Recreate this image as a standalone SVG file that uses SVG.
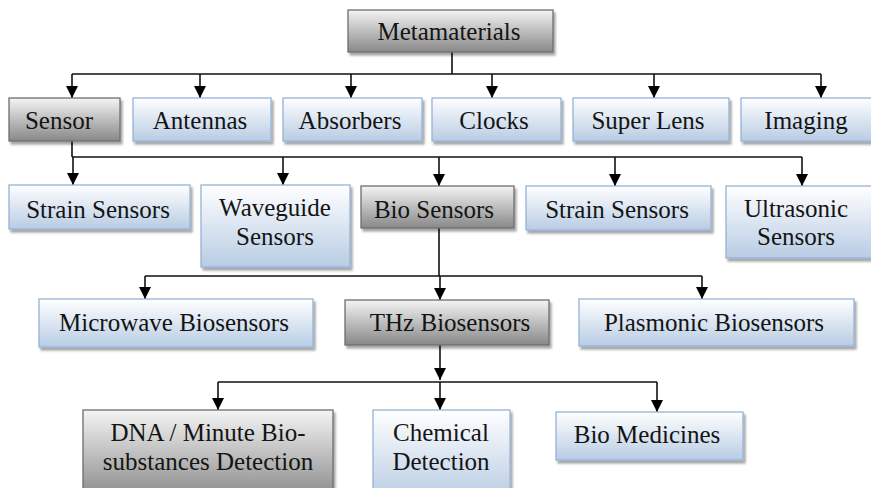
<svg xmlns="http://www.w3.org/2000/svg" width="871" height="488" viewBox="0 0 871 488" font-family="Liberation Serif, DejaVu Serif, serif">
<defs>
  <linearGradient id="gGray" x1="0" y1="0" x2="0" y2="1">
    <stop offset="0" stop-color="#f4f4f4"/>
    <stop offset="1" stop-color="#888888"/>
  </linearGradient>
  <linearGradient id="gBlue" x1="0" y1="0" x2="0" y2="1">
    <stop offset="0" stop-color="#ffffff"/>
    <stop offset="1" stop-color="#b8cce4"/>
  </linearGradient>
  <filter id="sh" x="-10%" y="-10%" width="130%" height="140%">
    <feDropShadow dx="2" dy="3" stdDeviation="1.2" flood-color="#000" flood-opacity="0.35"/>
  </filter>
  <marker id="arr" markerUnits="userSpaceOnUse" markerWidth="12" markerHeight="12" viewBox="0 0 10 10" refX="10" refY="5" orient="auto">
    <path d="M0,0 L10,5 L0,10 z" fill="#000"/>
  </marker>
</defs>
<style>
  .gray { fill: url(#gGray); stroke: #6e6e6e; stroke-width: 1.3; filter: url(#sh); }
  .blue { fill: url(#gBlue); stroke: #95b3d7; stroke-width: 1.3; filter: url(#sh); }
  text { font-family: 'Liberation Serif', serif; font-size: 25px; fill: #141414; text-anchor: middle; }
  .ln { fill: none; stroke: #111; stroke-width: 1.6; }
  .ar { fill: none; stroke: #111; stroke-width: 1.6; marker-end: url(#arr); }
</style>
<rect width="871" height="488" fill="#ffffff"/>

<g id="connectors">
  <path class="ln" d="M452,52 V74 M72,74 H821"/>
  <path class="ar" d="M72,74 V98"/>
  <path class="ar" d="M200,74 V98"/>
  <path class="ar" d="M351,74 V98"/>
  <path class="ar" d="M492,74 V98"/>
  <path class="ar" d="M654,74 V98"/>
  <path class="ar" d="M821,74 V98"/>

  <path class="ln" d="M72,141 V157 M72,157 H802"/>
  <path class="ar" d="M73,157 V185"/>
  <path class="ar" d="M283,157 V185"/>
  <path class="ar" d="M439,157 V186"/>
  <path class="ar" d="M615,157 V186"/>
  <path class="ar" d="M802,157 V186"/>

  <path class="ln" d="M439,228 V276 M145,276 H702"/>
  <path class="ar" d="M145,276 V299"/>
  <path class="ar" d="M440,276 V300"/>
  <path class="ar" d="M702,276 V299"/>

  <path class="ar" d="M440,345 V380"/>
  <path class="ln" d="M218,382 H657"/>
  <path class="ar" d="M218,382 V410"/>
  <path class="ar" d="M440,382 V410"/>
  <path class="ar" d="M657,382 V412"/>
</g>

<g id="metamaterials"><rect class="gray" x="348" y="10" width="205" height="42"/><text x="449" y="40">Metamaterials</text></g>

<g id="sensor"><rect class="gray" x="9" y="98" width="111" height="43"/><text x="59" y="129">Sensor</text></g>
<g id="antennas"><rect class="blue" x="133" y="98" width="138" height="43"/><text x="200" y="129">Antennas</text></g>
<g id="absorbers"><rect class="blue" x="283" y="98" width="139" height="43"/><text x="350" y="129">Absorbers</text></g>
<g id="clocks"><rect class="blue" x="432" y="98" width="129" height="43"/><text x="494" y="129">Clocks</text></g>
<g id="superlens"><rect class="blue" x="573" y="98" width="156" height="43"/><text x="648" y="129">Super Lens</text></g>
<g id="imaging"><rect class="blue" x="741" y="98" width="140" height="43"/><text x="806" y="129">Imaging</text></g>

<g id="strain1"><rect class="blue" x="9" y="185" width="181" height="44"/><text x="98" y="218">Strain Sensors</text></g>
<g id="waveguide"><rect class="blue" x="201" y="185" width="149" height="82"/><text x="275" y="216">Waveguide</text><text x="275" y="245">Sensors</text></g>
<g id="biosensors"><rect class="gray" x="361" y="186" width="153" height="42"/><text x="434" y="218">Bio Sensors</text></g>
<g id="strain2"><rect class="blue" x="526" y="186" width="185" height="44"/><text x="617" y="218">Strain Sensors</text></g>
<g id="ultrasonic"><rect class="blue" x="726" y="186" width="155" height="72"/><text x="796" y="217">Ultrasonic</text><text x="796" y="245">Sensors</text></g>

<g id="microwave"><rect class="blue" x="39" y="299" width="274" height="48"/><text x="174" y="331">Microwave Biosensors</text></g>
<g id="thz"><rect class="gray" x="345" y="300" width="204" height="45"/><text x="450" y="331">THz Biosensors</text></g>
<g id="plasmonic"><rect class="blue" x="579" y="299" width="275" height="47"/><text x="714" y="331">Plasmonic Biosensors</text></g>

<g id="dna"><rect class="gray" x="83" y="410" width="250" height="90"/><text x="208" y="441">DNA / Minute Bio-</text><text x="208" y="470">substances Detection</text></g>
<g id="chemical"><rect class="blue" x="373" y="410" width="137" height="90"/><text x="441" y="441">Chemical</text><text x="441" y="470">Detection</text></g>
<g id="biomedicines"><rect class="blue" x="556" y="412" width="187" height="48"/><text x="647" y="443">Bio Medicines</text></g>
</svg>
